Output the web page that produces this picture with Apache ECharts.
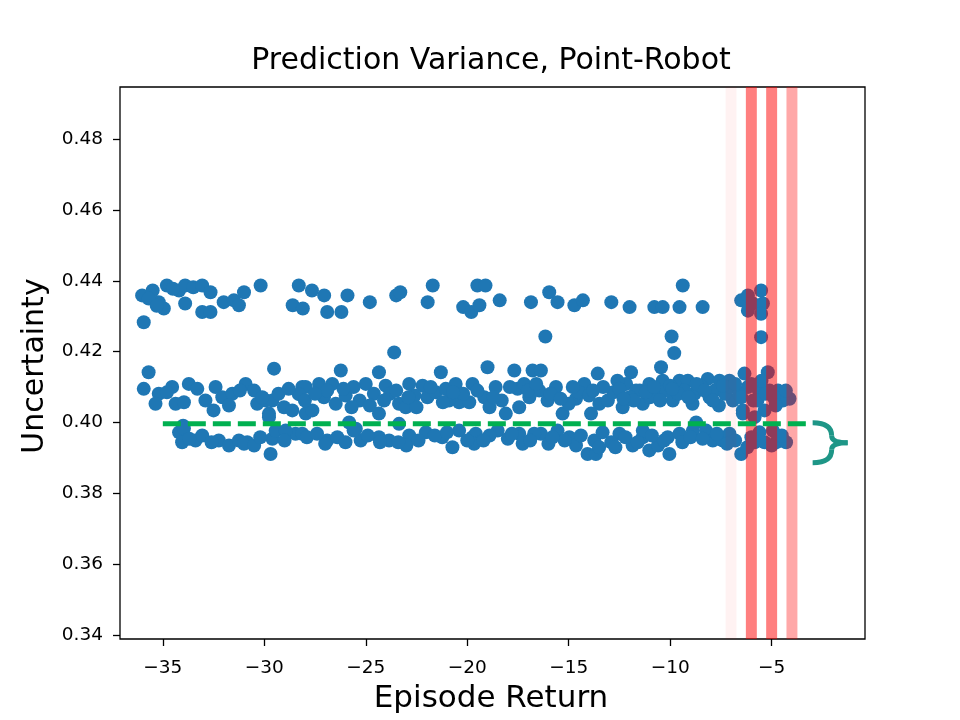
<!DOCTYPE html>
<html>
<head>
<meta charset="utf-8">
<script src="https://cdn.jsdelivr.net/npm/echarts@6/dist/echarts.min.js"></script>
<style>html,body{margin:0;padding:0;background:#fff}#c{width:960px;height:720px}</style>
</head>
<body>
<div id="c"></div>
<script>
// ---------- data ----------
const xTicks = [-35, -30, -25, -20, -15, -10, -5];
const yTicks = [0.34, 0.36, 0.38, 0.40, 0.42, 0.44, 0.46, 0.48];

const upperReturn = [-36.02,-35.5,-35.2,-34.95,-34.8,-34.2,-33.9,-33.5,-33.06,-33.9,-32.65,-33.06,-32.65,-32.0,-31.5,-31.25,-31.0,-30.18,-35.94,-28.3,-28.6,-28.1,-27.65,-27.05,-25.9,-26.9,-26.2,-24.8,-23.5,-23.3,-21.95,-21.7,-20.2,-19.8,-19.5,-19.1,-19.4,-18.4,-16.86,-15.96,-15.55,-14.72,-14.3,-12.9,-12.0,-10.78,-10.37,-9.38,-9.54,-8.4,-6.5,-6.17,-5.93,-5.52,-5.43,-5.52,-6.17,-35.7,-35.3,-34.5];
const upperUnc = [0.4359,0.4373,0.4340,0.4322,0.4387,0.4373,0.4387,0.4382,0.4387,0.4336,0.4368,0.4312,0.4312,0.4340,0.4345,0.4331,0.4368,0.4387,0.4283,0.4387,0.4331,0.4322,0.4373,0.4359,0.4359,0.4312,0.4312,0.4340,0.4359,0.4368,0.4340,0.4387,0.4326,0.4312,0.4387,0.4387,0.4331,0.4345,0.4340,0.4368,0.4340,0.4331,0.4345,0.4340,0.4326,0.4326,0.4326,0.4387,0.4326,0.4326,0.4345,0.4359,0.4336,0.4373,0.4336,0.4307,0.4316,0.4350,0.4330,0.4378];

const outlierReturn = [-16.15,-9.93,-9.8,-5.52,-23.6];
const outlierUnc = [0.4243,0.4243,0.4196,0.4241,0.4198];

const middleReturn = [-35.7,-35.94,-35.2,-35.36,-34.54,-34.37,-33.96,-33.72,-32.4,-32.5,-32.07,-31.58,-31.74,-30.92,-30.5,-30.35,-29.93,-29.6,-29.52,-29.03,-28.62,-29.77,-28.13,-27.96,-29.77,-27.96,-27.3,-27.06,-27.63,-26.65,-26.23,-26.48,-25.99,-25.0,-24.35,-24.6,-24.02,-24.35,-23.36,-23.03,-22.86,-22.2,-21.96,-21.55,-21.3,-21.06,-20.57,-20.4,-19.74,-19.9,-19.0,-19.16,-18.6,-18.1,-17.68,-17.52,-17.44,-16.94,-16.78,-16.37,-16.45,-16.04,-15.63,-15.3,-14.64,-14.23,-13.57,-13.49,-13.07,-13.9,-12.34,-12.17,-11.93,-11.5,-11.35,-11.68,-11.03,-10.45,-10.37,-10.7,-9.87,-9.54,-9.13,-8.8,-8.15,-8.06,-7.57,-7.08,-6.91,-6.34,-6.17,-6.42,-5.68,-5.19,-5.1,-5.35,-4.69,-4.12,-4.45,-6.42,-5.84,
  -28.3,-28.0,-26.9,-25.6,-25.3,-24.8,-23.8,-22.6,-22.5,-20.9,-20.2,-18.9,-18.3,-17.2,-15.9,-15.0,-14.5,-12.8,-12.6,-11.0,-10.2,-9.3,-8.5,-7.8,-7.3,-7.0,-6.6,-5.9,-5.5,-4.9,-8.9,-7.6,-10.0,-12.0,-9.6,
  -34.8,-33.3,-32.9,-31.2,-30.1,-29.3,-28.8,-27.5,-26.1,-25.7,-24.1,-23.5,-22.9,-21.8,-21.2,-20.7,-19.5,-18.7,-17.9,-17.0,-16.6,-15.4,-14.8,-14.0,-13.3,-12.5,-11.8,-11.2,-10.8,-10.5,-9.9,-9.1,-8.7,-8.3,-7.9,-7.4,-6.8,-6.5,-6.0,-5.7,-5.3,-4.8,-4.3,-12.3,-13.8];
const middleUnc = [0.4142,0.4095,0.4081,0.4053,0.4100,0.4053,0.4057,0.4109,0.4100,0.4034,0.4071,0.4081,0.4048,0.4109,0.4090,0.4053,0.4062,0.4062,0.4152,0.4043,0.4034,0.4025,0.4100,0.4025,0.4015,0.4100,0.4109,0.4071,0.4034,0.4109,0.4147,0.4053,0.4076,0.4109,0.4142,0.4081,0.4104,0.4025,0.4053,0.4043,0.4109,0.4104,0.4071,0.4085,0.4142,0.4095,0.4109,0.4057,0.4109,0.4057,0.4156,0.4071,0.4100,0.4025,0.4147,0.4095,0.4043,0.4071,0.4147,0.4147,0.4090,0.4062,0.4100,0.4025,0.4067,0.4109,0.4138,0.4053,0.4062,0.4025,0.4043,0.4109,0.4142,0.4090,0.4053,0.4090,0.4109,0.4156,0.4118,0.4081,0.4062,0.4118,0.4118,0.4081,0.4123,0.4071,0.4118,0.4118,0.4062,0.4138,0.4100,0.4034,0.4095,0.4142,0.4090,0.4034,0.4090,0.4067,0.4062,0.4025,0.4015,
  0.4080,0.4062,0.4090,0.4100,0.4062,0.4048,0.4081,0.4076,0.4043,0.4062,0.4081,0.4043,0.4062,0.4109,0.4081,0.4053,0.4085,0.4085,0.4118,0.4071,0.4090,0.4090,0.4104,0.4090,0.4081,0.4100,0.4081,0.4062,0.4118,0.4071,0.4053,0.4048,0.4104,0.4071,0.4081,
  0.4085,0.4095,0.4062,0.4090,0.4071,0.4081,0.4095,0.4081,0.4095,0.4043,0.4062,0.4090,0.4071,0.4100,0.4057,0.4085,0.4090,0.4071,0.4100,0.4090,0.4109,0.4067,0.4100,0.4076,0.4100,0.4095,0.4062,0.4085,0.4100,0.4062,0.4095,0.4071,0.4109,0.4090,0.4062,0.4104,0.4109,0.4071,0.4109,0.4062,0.4081,0.4048,0.4090,0.4067,0.4090];

const lowerReturn = [-34.2,-34.05,-33.39,-33.06,-34.0,-32.24,-31.74,-31.25,-30.84,-29.6,-29.44,-29.69,-28.46,-28.95,-28.13,-26.9,-25.49,-25.25,-24.35,-23.85,-23.36,-22.86,-22.04,-21.23,-20.73,-20.4,-19.74,-25.82,-19.58,-19.66,-18.5,-17.44,-17.27,-16.37,-15.55,-14.97,-14.64,-14.07,-13.66,-13.74,-13.33,-12.5,-11.85,-11.35,-11.35,-11.03,-10.04,-10.12,-9.54,-8.72,-8.88,-8.23,-7.9,-7.41,-7.08,-6.5,-5.84,-5.35,-4.94,-4.78,-4.29,
  -31.0,-30.5,-27.9,-27.0,-26.4,-24.9,-23.0,-21.6,-20.0,-18.9,-18.0,-16.7,-16.0,-15.2,-12.9,-12.2,-9.4,-9.0,-7.7,-6.8,-6.2,-5.6,-4.5,-13.5,-11.6,-10.6,-33.96,-25.6,-24.3,-23.4,
  -33.7,-32.6,-30.2,-29.0,-27.4,-26.0,-22.4,-21.0,-19.2,-17.8,-16.9,-15.8,-14.4,-12.7,-10.9,-10.3,-8.4,-7.2,-6.0,-5.0];
const lowerUnc = [0.3972,0.3944,0.3949,0.3963,0.3991,0.3949,0.3935,0.3949,0.3944,0.3954,0.3977,0.3911,0.3968,0.3977,0.3968,0.3949,0.3982,0.3949,0.3958,0.3949,0.3996,0.3963,0.3972,0.3958,0.3930,0.3977,0.3958,0.4000,0.3968,0.3940,0.3977,0.3968,0.3940,0.3968,0.3977,0.3958,0.3935,0.3911,0.3911,0.3949,0.3972,0.3968,0.3935,0.3958,0.3977,0.3921,0.3911,0.3958,0.3968,0.4000,0.3977,0.3977,0.3949,0.3949,0.3968,0.3911,0.3944,0.3944,0.3977,0.3944,0.3944,
  0.3940,0.3935,0.3958,0.3940,0.3958,0.3963,0.3935,0.3963,0.3949,0.3963,0.3954,0.3968,0.3940,0.3949,0.3944,0.3958,0.3944,0.3958,0.3968,0.3949,0.3930,0.3972,0.3963,0.3930,0.3944,0.3935,0.3983,0.3977,0.3944,0.3944,
  0.3954,0.3944,0.3958,0.3949,0.3968,0.3944,0.3949,0.3972,0.3949,0.3968,0.3949,0.3958,0.3963,0.3930,0.3963,0.3949,0.3954,0.3940,0.3958,0.3935];

// highlighted returns (vertical bands)
const bandReturns = [-7, -6, -5, -4];
// threshold (dashed line)
const thresholdValue = 0.3996;
const thresholdFrom = -35;
const thresholdTo = -3.3;

// ---------- styles ----------
const bandAlpha = [0.05, 0.5, 0.5, 0.34];
const bandHalfWidth = 0.27;
const FONT = 'DejaVu Sans';

function pairs(xs, ys) { return xs.map((x, i) => [x, ys[i]]); }
const allPoints = [].concat(
  pairs(upperReturn, upperUnc),
  pairs(outlierReturn, outlierUnc),
  pairs(middleReturn, middleUnc),
  pairs(lowerReturn, lowerUnc)
);

const chart = echarts.init(document.getElementById('c'), null, {renderer: 'canvas'});

function labels() {
  return [
    {type: 'text', id: 't1', x: 491, y: 61.5, style: {text: 'Prediction Variance, Point-Robot', fontFamily: FONT, fontSize: 30, fill: '#000', align: 'center', verticalAlign: 'middle'}},
    {type: 'text', id: 't2', x: 491, y: 699, style: {text: 'Episode Return', fontFamily: FONT, fontSize: 31, fill: '#000', align: 'center', verticalAlign: 'middle'}},
    {type: 'text', id: 't3', x: 35, y: 366, rotation: Math.PI / 2, style: {text: 'Uncertainty', fontFamily: FONT, fontSize: 30, fill: '#000', align: 'center', verticalAlign: 'middle'}}
  ];
}

const option = {
  animation: false,
  backgroundColor: '#fff',
  grid: {left: 120, top: 87, width: 745, height: 552, show: true, borderColor: '#000', borderWidth: 1.3, backgroundColor: 'transparent'},
  xAxis: {
    type: 'value', min: -37.11, max: -0.4,
    axisLine: {show: false},
    splitLine: {show: false},
    axisTick: {show: true, length: 7, lineStyle: {color: '#000', width: 1.3}, customValues: xTicks},
    axisLabel: {customValues: xTicks, margin: 20, color: '#000', fontFamily: FONT, fontSize: 18.5,
      formatter: v => (v < 0 ? '\u2212' : '') + Math.abs(v)}
  },
  yAxis: {
    type: 'value', min: 0.3388, max: 0.4948,
    axisLine: {show: false},
    splitLine: {show: false},
    axisTick: {show: true, length: 7, lineStyle: {color: '#000', width: 1.3}, customValues: yTicks},
    axisLabel: {customValues: yTicks, margin: 17, color: '#000', fontFamily: FONT, fontSize: 18.5,
      formatter: v => v.toFixed(2)}
  },
  series: [
    {
      type: 'scatter', z: 2,
      data: allPoints,
      symbolSize: 14,
      itemStyle: {color: '#1f77b4', opacity: 1},
      emphasis: {disabled: true}
    },
    {
      type: 'custom', z: 3,
      data: bandReturns.map((b, i) => [b, thresholdValue, i]),
      renderItem: function (params, api) {
        const c = api.value(0);
        const idx = api.value(2);
        const cs = params.coordSys;
        const p0 = api.coord([c - bandHalfWidth, 0.4]);
        const p1 = api.coord([c + bandHalfWidth, 0.4]);
        return {
          type: 'rect',
          shape: {x: p0[0], y: cs.y, width: p1[0] - p0[0], height: cs.height},
          style: {fill: 'rgba(255,0,0,' + bandAlpha[idx] + ')'}
        };
      },
      silent: true
    },
    {
      type: 'line', z: 4,
      data: [[thresholdFrom, thresholdValue], [thresholdTo, thresholdValue]],
      symbol: 'none',
      lineStyle: {color: '#00b050', width: 5, type: [18, 7], cap: 'butt'},
      silent: true
    }
  ],
  graphic: labels()
};
chart.setOption(option);

// curly brace annotation next to the end of the threshold line
const anchor = chart.convertToPixel({gridIndex: 0}, [thresholdTo, thresholdValue]);
const bx = anchor[0] + 6.5, by = anchor[1] - 1;
const braceStyle = {fill: 'none', stroke: '#1e9687', lineWidth: 5};
function bez(a) {
  return {type: 'bezierCurve', x: bx, y: by, z: 10,
    shape: {x1: a[0], y1: a[1], cpx1: a[2], cpy1: a[3], cpx2: a[4], cpy2: a[5], x2: a[6], y2: a[7]},
    style: braceStyle};
}
chart.setOption({
  graphic: labels().concat([
    Object.assign(bez([0, 0, 13, 0, 19, 5, 19, 13]), {id: 'b1'}),
    Object.assign(bez([19, 13, 19, 18, 25, 20, 35, 20]), {id: 'b2'}),
    Object.assign(bez([35, 20, 25, 20, 19, 22, 19, 27]), {id: 'b3'}),
    Object.assign(bez([19, 27, 19, 35, 13, 40, 0, 40]), {id: 'b4'})
  ])
});
</script>
</body>
</html>
